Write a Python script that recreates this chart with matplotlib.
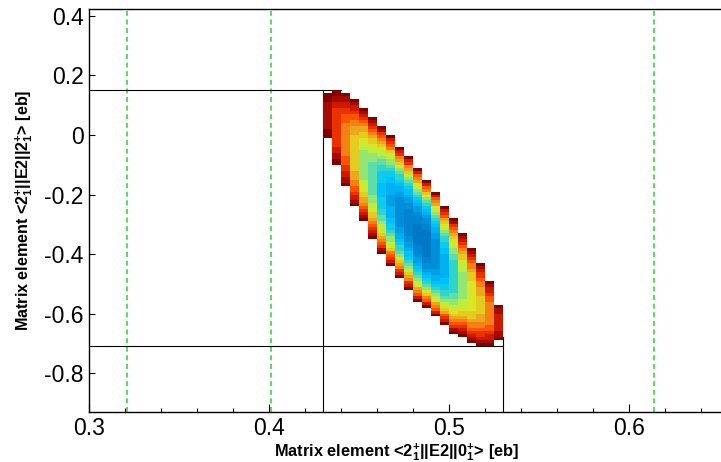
"""Chi-square surface of the two E2 matrix elements, ROOT-like look."""

import matplotlib
matplotlib.use("Agg")
import matplotlib.pyplot as plt
import numpy as np
from matplotlib.colors import LinearSegmentedColormap

plt.rcParams["font.family"] = ["Liberation Sans", "DejaVu Sans"]
plt.rcParams["mathtext.fontset"] = "custom"
plt.rcParams["mathtext.rm"] = "Liberation Sans:bold"
plt.rcParams["mathtext.bf"] = "Liberation Sans:bold"
plt.rcParams["mathtext.default"] = "bf"
plt.rcParams["lines.scale_dashes"] = False

# histogram columns (left edge of each 0.005 wide bin in <2+||E2||0+>)
col_x = [0.430, 0.435, 0.440, 0.445, 0.450, 0.455, 0.460, 0.465, 0.470, 0.475,
         0.480, 0.485, 0.490, 0.495, 0.500, 0.505, 0.510, 0.515, 0.520, 0.525]
col_w = 0.005
# upper / lower limit of the filled region in each column (<2+||E2||2+>)
col_top = [0.141, 0.149, 0.137, 0.118, 0.087, 0.064, 0.030, 0.000, -0.040, -0.074,
           -0.114, -0.155, -0.194, -0.239, -0.279, -0.325, -0.376, -0.429, -0.490, -0.574]
col_bot = [-0.006, -0.101, -0.174, -0.238, -0.293, -0.346, -0.397, -0.444, -0.481, -0.519,
           -0.555, -0.585, -0.614, -0.636, -0.665, -0.683, -0.698, -0.709, -0.712, -0.692]
# smallest (normalised) chi2 level reached in each column
col_min = [0.92, 0.80, 0.71, 0.60, 0.47, 0.40, 0.29, 0.19, 0.11, 0.07,
           0.03, 0.00, 0.10, 0.22, 0.35, 0.46, 0.55, 0.63, 0.72, 0.86]
y_bin = 0.01

# 1 sigma limits (black) and reference values (green dashed)
lim_x = [0.43, 0.53]
lim_y = [0.151, -0.71]
lim_hline_end = [0.44, 0.53]
lim_vline_top = [0.151, -0.68]
ref_x = [0.321, 0.401, 0.614]

xlim = (0.3, 0.651)
ylim = (-0.93, 0.4225)
x_major = [0.3, 0.4, 0.5, 0.6]
x_minor = [0.32, 0.34, 0.36, 0.38, 0.42, 0.44, 0.46, 0.48,
           0.52, 0.54, 0.56, 0.58, 0.62, 0.64]
y_major = [0.4, 0.2, 0.0, -0.2, -0.4, -0.6, -0.8]
y_labels = ["0.4", "0.2", "0", "-0.2", "-0.4", "-0.6", "-0.8"]

palette = LinearSegmentedColormap.from_list("chi2", [
    (0.00, "#0078c8"), (0.12, "#0090dc"), (0.22, "#00b4f4"), (0.29, "#00c8ff"),
    (0.35, "#20d0d8"), (0.41, "#50dcb4"), (0.47, "#90e478"), (0.54, "#c8f030"),
    (0.60, "#e0e020"), (0.66, "#e8b820"), (0.72, "#f09018"), (0.80, "#ff4a00"),
    (0.87, "#e02000"), (0.93, "#b01000"), (1.00, "#800000"),
], N=20)

# build the 2D histogram cell by cell
x_edges = np.append(col_x, col_x[-1] + col_w)
n_rows = int(round((0.16 - (-0.72)) / y_bin))
y_edges = -0.72 + y_bin * np.arange(n_rows + 1)
y_cent = 0.5 * (y_edges[:-1] + y_edges[1:])
Z = np.full((n_rows, len(col_x)), np.nan)
for j in range(len(col_x)):
    top, bot = round(col_top[j], 2), round(col_bot[j], 2)
    c, h = 0.5 * (top + bot), 0.5 * (top - bot)
    inside = (y_cent > bot) & (y_cent < top)
    u = (y_cent[inside] - c) / h
    Z[inside, j] = col_min[j] + (1 - col_min[j]) * u ** 2
Z = np.ma.masked_invalid(Z)

fig = plt.figure(figsize=(7.21, 4.62), dpi=100)
ax = fig.add_axes([89 / 721, 1 - 411.7 / 462, 1 - 89 / 721, (411.7 - 9.3) / 462])

for xv in ref_x:
    ax.plot([xv, xv], ylim, color="#63d963", lw=1.5, dashes=(3.6, 2.6), zorder=1)

for xv, yv, xe, yt in zip(lim_x, lim_y, lim_hline_end, lim_vline_top):
    ax.plot([xlim[0], xe], [yv, yv], color="black", lw=0.8, zorder=1)
    ax.plot([xv, xv], [ylim[0], yt], color="black", lw=0.8, zorder=1)

ax.pcolormesh(x_edges, y_edges, Z, cmap=palette, vmin=0, vmax=1,
              shading="flat", antialiased=False, zorder=2)

ax.set_xlim(*xlim)
ax.set_ylim(*ylim)
ax.set_xticks(x_major)
ax.set_xticklabels(["0.3", "0.4", "0.5", "0.6"])
ax.set_xticks(x_minor, minor=True)
ax.set_yticks(y_major)
ax.set_yticklabels(y_labels)
ax.tick_params(axis="x", which="major", direction="in", length=5.8, width=0.8,
               labelsize=16.5, pad=4, top=False)
ax.tick_params(axis="x", which="minor", direction="in", length=2.9, width=0.8, top=False)
ax.tick_params(axis="y", which="major", direction="in", length=4.1, width=0.8,
               labelsize=16.5, pad=4, right=False)
ax.spines["right"].set_visible(False)
for s in ("left", "bottom", "top"):
    ax.spines[s].set_linewidth(1.0)

fig.text(396.5 / 721, 1 - 452 / 462,
         r"Matrix element <2$^{+}_{1}$||E2||0$^{+}_{1}$> [eb]",
         ha="center", va="center", fontsize=11.8, fontweight="bold")
fig.text(24 / 721, 1 - 210 / 462,
         r"Matrix element <2$^{+}_{1}$||E2||2$^{+}_{1}$> [eb]",
         ha="center", va="center", rotation=90, fontsize=11.6, fontweight="bold")

fig.savefig("out.png", dpi=100)
plt.close(fig)
